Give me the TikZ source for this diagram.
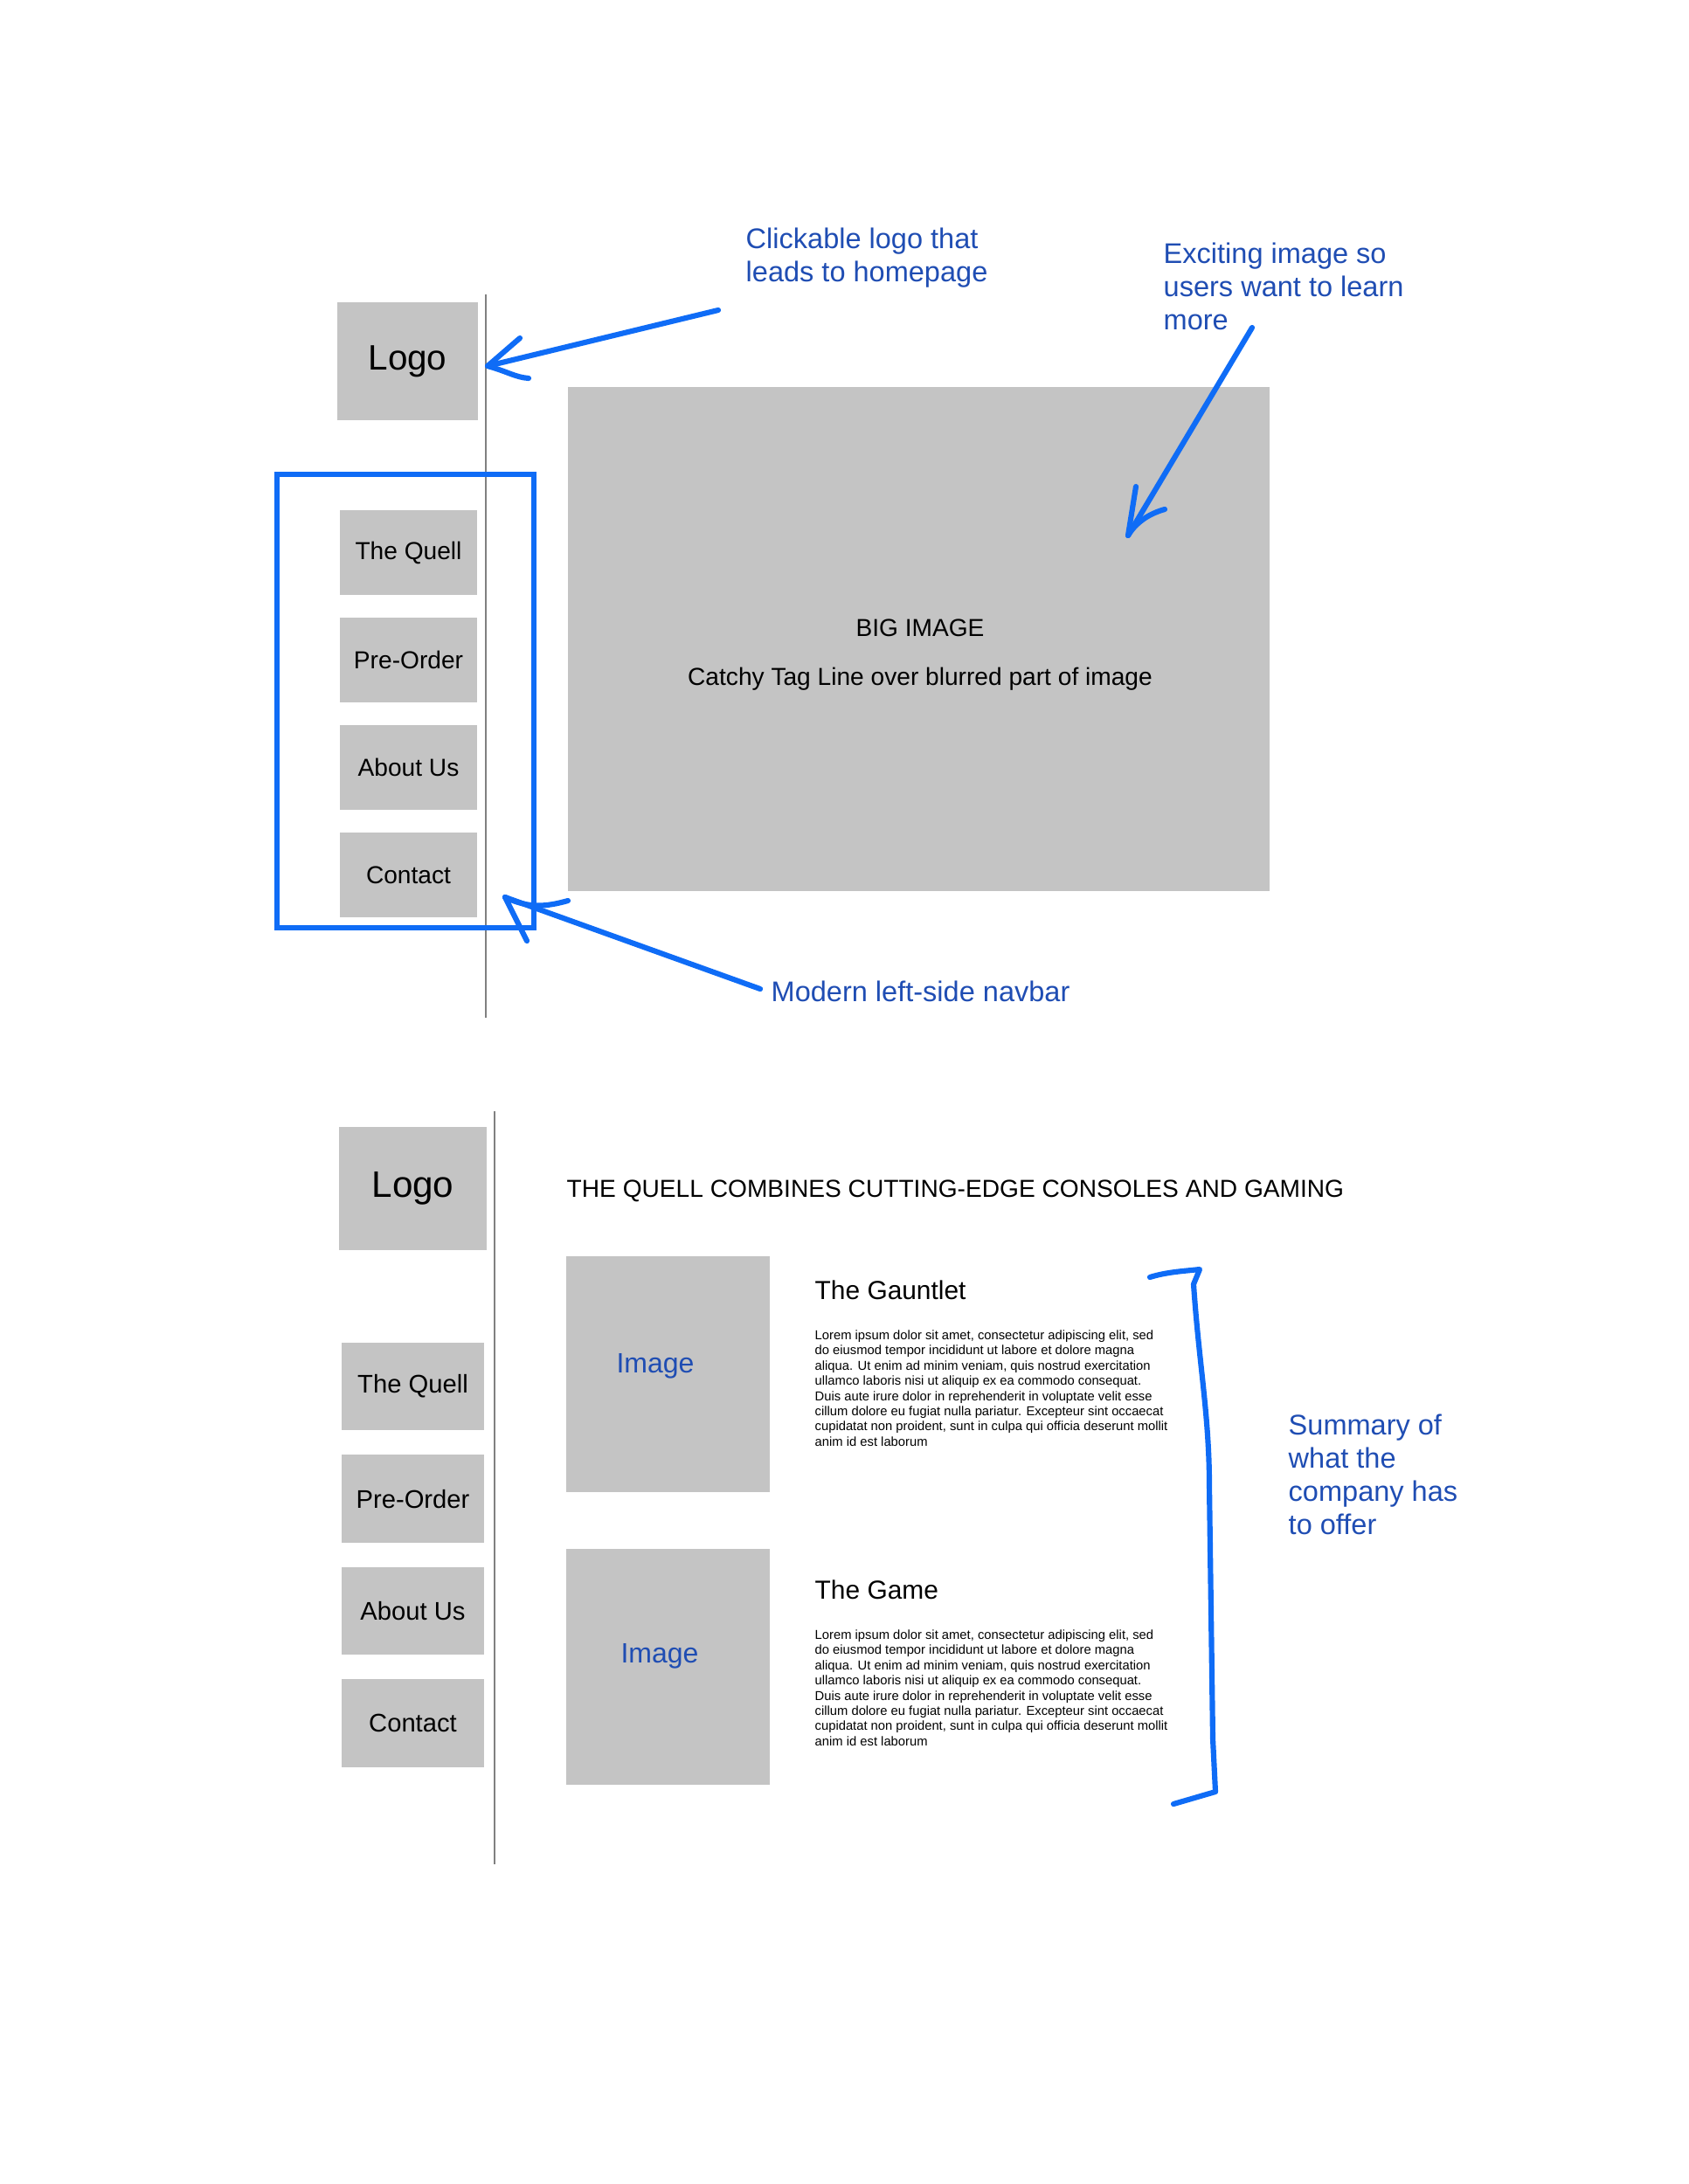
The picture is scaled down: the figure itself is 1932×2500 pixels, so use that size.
\documentclass[tikz,border=0pt]{standalone}
\usepackage{fontspec}
\setmainfont{Liberation Sans}
\usetikzlibrary{positioning}

\definecolor{boxgrey}{HTML}{C4C4C4}
\definecolor{penblue}{HTML}{0F6CF6}
\definecolor{noteblue}{HTML}{1F4DB3}
\definecolor{rulegrey}{HTML}{808080}

\newcommand{\loremtext}{Lorem ipsum dolor sit amet, consectetur adipiscing elit, sed\\
do eiusmod tempor incididunt ut labore et dolore magna\\
aliqua. Ut enim ad minim veniam, quis nostrud exercitation\\
ullamco laboris nisi ut aliquip ex ea commodo consequat.\\
Duis aute irure dolor in reprehenderit in voluptate velit esse\\
cillum dolore eu fugiat nulla pariatur. Excepteur sint occaecat\\
cupidatat non proident, sunt in culpa qui officia deserunt mollit\\
anim id est laborum}

\begin{document}
\begin{tikzpicture}[x=0.01cm,y=-0.01cm,
  wire box/.style={fill=boxgrey,inner sep=0pt,outer sep=0pt},
  logo box/.style={wire box,font=\fontsize{11.5}{13}\selectfont},
  nav box/.style={wire box,minimum width=1.57cm,minimum height=0.965cm,font=\fontsize{8}{9.6}\selectfont},
  big nav box/.style={wire box,minimum width=1.63cm,minimum height=1.005cm,font=\fontsize{8.3}{10}\selectfont},
  pic box/.style={wire box,minimum width=2.33cm,minimum height=2.70cm},
  note/.style={text=noteblue,align=left,anchor=north west,inner sep=0pt,font=\fontsize{9.25}{10.8}\selectfont},
  pen/.style={draw=penblue,line width=1.75pt,line cap=round,line join=round},
  rule/.style={draw=rulegrey,line width=0.45pt}]

  \useasboundingbox (0,0) rectangle (1932,2500);

  % top page: navbar sketch
  \node[logo box,minimum width=1.61cm,minimum height=1.35cm] (logo1) at (466.5,413.5) {Logo};
  \node[nav box] (quell1) at (467.5,632.5) {The Quell};
  \node[nav box] (order1) [below=0.265cm of quell1] {Pre-Order};
  \node[nav box] (about1) [below=0.265cm of order1] {About Us};
  \node[nav box] (contact1) [below=0.265cm of about1] {Contact};
  \coordinate (rule1a) at (556,337);
  \coordinate (rule1b) at (556,1165);
  \draw[rule] (rule1a) -- (rule1b);

  \node[wire box,minimum width=8.03cm,minimum height=5.77cm] (bigimg) at (1051.5,731.5) {};
  \node[font=\fontsize{8}{9.6}\selectfont] (bigtitle) at (1053,719) {BIG IMAGE};
  \node[font=\fontsize{8}{9.6}\selectfont] (tagline) [below=0.1cm of bigtitle] {Catchy Tag Line over blurred part of image};

  \node[draw=penblue,line width=1.75pt,minimum width=2.94cm,minimum height=5.19cm] (navframe) at (464,802.5) {};

  % notes and arrows
  \node[note] (logonote) at (853,260) {Clickable logo that\\leads to homepage};
  \node[note] (imgnote) at (1331,277) {Exciting image so\\users want to learn\\more};
  \node[note] (navnote) at (882,1122) {Modern left-side navbar};

  \coordinate (a1s) at (822,355);
  \coordinate (a1t) at (558,419);
  \draw[pen] (a1s) -- (a1t);
  \draw[pen] (595,387) -- (a1t) .. controls (580,425) and (590,432) .. (605,433);

  \coordinate (a2s) at (1433,375);
  \coordinate (a2t) at (1291,613);
  \draw[pen] (a2s) -- (a2t);
  \draw[pen] (1300,557) -- (a2t) .. controls (1300,598) and (1315,588) .. (1333,583);

  \coordinate (a3s) at (870,1132);
  \coordinate (a3t) at (578,1027);
  \draw[pen] (a3s) -- (a3t);
  \draw[pen] (603,1077) -- (a3t) .. controls (605,1040) and (625,1038) .. (650,1031);

  % second page: content sketch
  \node[logo box,minimum width=1.69cm,minimum height=1.41cm,font=\fontsize{12}{14}\selectfont] (logo2) at (472.5,1360.5) {Logo};
  \node[big nav box] (quell2) at (472.5,1587) {The Quell};
  \node[big nav box] (order2) [below=0.28cm of quell2] {Pre-Order};
  \node[big nav box] (about2) [below=0.28cm of order2] {About Us};
  \node[big nav box] (contact2) [below=0.28cm of about2] {Contact};
  \coordinate (rule2a) at (566,1272);
  \coordinate (rule2b) at (566,2134);
  \draw[rule] (rule2a) -- (rule2b);

  \node[anchor=base west,inner sep=0pt,font=\fontsize{8}{9.6}\selectfont] (headline) at (648,1370)
    {THE QUELL COMBINES CUTTING-EDGE CONSOLES AND GAMING};

  \node[pic box] (img1) at (764.5,1573) {};
  \node[pic box] (img2) [below=0.65cm of img1] {};
  \node[text=noteblue,font=\fontsize{9.1}{11}\selectfont] (img1txt) at (750,1564) {Image};
  \node[text=noteblue,font=\fontsize{9.1}{11}\selectfont] (img2txt) at (755,1896) {Image};

  \node[anchor=base west,inner sep=0pt,font=\fontsize{8.5}{10}\selectfont] (gauntlet) at (932,1487) {The Gauntlet};
  \node[anchor=north west,inner sep=0pt,align=left,font=\fontsize{4.2}{4.95}\selectfont] (lorem1) at (932,1522) {\loremtext};
  \node[anchor=base west,inner sep=0pt,font=\fontsize{8.5}{10}\selectfont] (game) at (932,1830) {The Game};
  \node[anchor=north west,inner sep=0pt,align=left,font=\fontsize{4.2}{4.95}\selectfont] (lorem2) at (932,1865) {\loremtext};

  \node[note] (sumnote) at (1474,1618) {Summary of\\what the\\company has\\to offer};
  \draw[pen] (1316,1462) .. controls (1335,1456) and (1355,1455) .. (1373,1453)
    -- (1366,1470) .. controls (1372,1560) and (1384,1620) .. (1384,1700)
    -- (1388,1990) -- (1391,2051) -- (1343,2065);

\end{tikzpicture}
\end{document}
